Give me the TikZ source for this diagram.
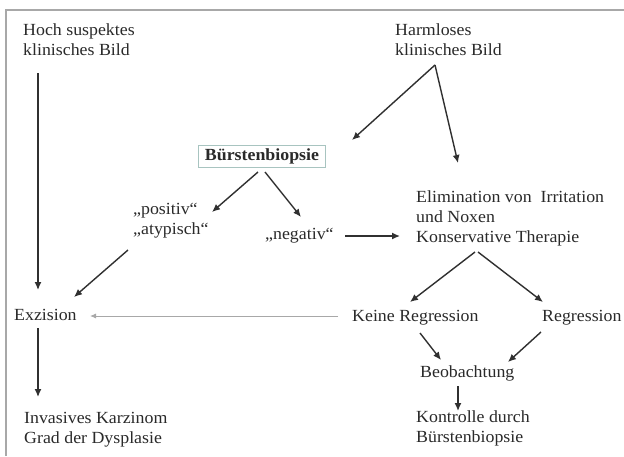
\documentclass[tikz,border=0pt]{standalone}
\usepackage{fontspec}
\setmainfont[FakeStretch=1.05]{Liberation Serif}
\usetikzlibrary{arrows.meta}
\definecolor{txt}{HTML}{2A2A2A}
\definecolor{ln}{HTML}{303030}
\definecolor{frame}{HTML}{A8A8A8}
\definecolor{bbox}{HTML}{A8C4C0}
\begin{document}
\begin{tikzpicture}[x=1pt,y=-1pt,
  lbl/.style={anchor=west,inner sep=0pt,align=left,text=txt,
    font=\fontsize{17}{20}\selectfont},
  arr/.style={draw=ln,line width=1.4pt,-{Latex[length=8pt,width=7pt]}},
  thin arr/.style={draw=frame,line width=0.9pt,-{Latex[length=6pt,width=5pt]}}]
\useasboundingbox[fill=white] (0,0) rectangle (624,456);
\draw[frame,line width=1.4pt] (6,456) -- (6,10) -- (624,10);

\node[lbl] (hoch) at (23,40) {Hoch suspektes\\klinisches Bild};
\node[lbl] (harm) at (395,40) {Harmloses\\klinisches Bild};
\node[draw=bbox,line width=0.8pt,minimum width=127pt,minimum height=22pt,
  inner sep=0pt,text=txt,font=\fontsize{17}{20}\selectfont\bfseries] (bb) at (262,156) {Bürstenbiopsie};
\node[lbl] (pos) at (133,221) {„positiv“\\„atypisch“};
\node[lbl] (neg) at (265,236) {„negativ“};
\node[lbl] (elim) at (416,218) {Elimination von~ Irritation\\und Noxen\\Konservative Therapie};
\node[lbl] (exz) at (14,315) {Exzision};
\node[lbl] (inv) at (24,430) {Invasives Karzinom\\Grad der Dysplasie};
\node[lbl] (keine) at (352,318) {Keine Regression};
\node[lbl] (reg) at (542,318) {Regression};
\node[lbl] (beo) at (420,373) {Beobachtung};
\node[lbl] (kon) at (416,428) {Kontrolle durch\\Bürstenbiopsie};

\draw[arr] ([shift={(15,33)}]hoch.west) -- ([shift={(24,-25)}]exz.west);
\draw[arr] ([shift={(40,25)}]harm.west) -- ([shift={(90,-16)}]bb.center);
\draw[arr] ([shift={(40,25)}]harm.west) -- ([shift={(42,-55)}]elim.west);
\draw[arr] ([shift={(-4,16)}]bb.center) -- ([shift={(79,-9)}]pos.west);
\draw[arr] ([shift={(3,16)}]bb.center) -- ([shift={(36,-19)}]neg.west);
\draw[arr] ([shift={(80,0)}]neg.west) -- ([shift={(-16,18)}]elim.west);
\draw[arr] ([shift={(-5,29)}]pos.west) -- ([shift={(60,-18)}]exz.west);
\draw[thin arr] ([shift={(-14,-2)}]keine.west) -- ([shift={(76,1)}]exz.west);
\draw[arr] ([shift={(24,13)}]exz.west) -- ([shift={(14,-33)}]inv.west);
\draw[arr] ([shift={(59,34)}]elim.west) -- ([shift={(58,-16)}]keine.west);
\draw[arr] ([shift={(62,34)}]elim.west) -- ([shift={(1,-16)}]reg.west);
\draw[arr] ([shift={(68,15)}]keine.west) -- ([shift={(21,-13)}]beo.west);
\draw[arr] ([shift={(-1,14)}]reg.west) -- ([shift={(88,-11)}]beo.west);
\draw[arr] ([shift={(38,13)}]beo.west) -- ([shift={(42,-17)}]kon.west);
\end{tikzpicture}
\end{document}
